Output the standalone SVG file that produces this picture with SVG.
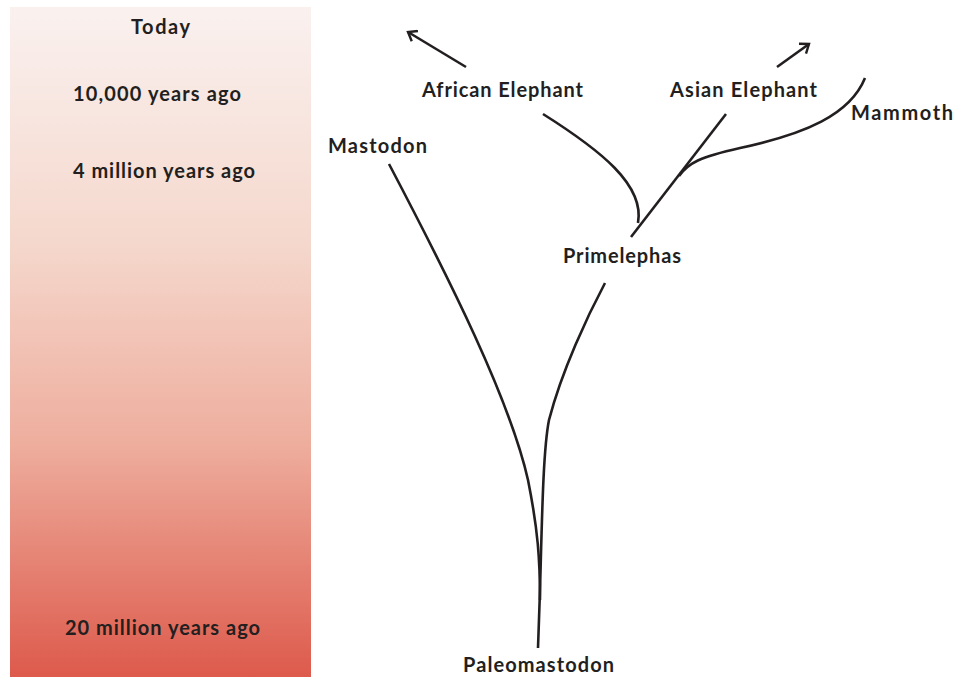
<svg xmlns="http://www.w3.org/2000/svg" width="958" height="677" viewBox="0 0 958 677">
<style>
text{font-family:Lato,"Open Sans","Liberation Sans",sans-serif;font-weight:bold;font-size:20px;fill:#231f20}
.ln{fill:none;stroke:#231f20;stroke-width:2.6;stroke-linecap:butt}
</style>
<defs>
<linearGradient id="g" x1="0" y1="0" x2="0" y2="1">
<stop offset="0" stop-color="#faf1ef"/>
<stop offset="0.35" stop-color="#f5d8cd"/>
<stop offset="0.65" stop-color="#eeae9e"/>
<stop offset="1" stop-color="#dd5a4c"/>
</linearGradient>
<marker id="ah" markerWidth="14" markerHeight="14" refX="11" refY="7" orient="auto" markerUnits="userSpaceOnUse">
<path d="M3,1 L11,7 L3,13" fill="none" stroke="#231f20" stroke-width="2.4"/>
</marker>
</defs>
<g id="timescale">
<rect x="10" y="7" width="301" height="670" fill="url(#g)"/>
<text x="131" y="34" textLength="59" lengthAdjust="spacing">Today</text>
<text x="73" y="101" textLength="168" lengthAdjust="spacing">10,000 years ago</text>
<text x="73" y="178" textLength="182" lengthAdjust="spacing">4 million years ago</text>
<text x="65" y="635" textLength="195" lengthAdjust="spacing">20 million years ago</text>
</g>
<g id="connectors">
<path class="ln" d="M389,164 C450,280 510,400 528,480 C538,530 540,560 540,600"/>
<path class="ln" d="M538,648 L540,590 C542,520 543,450 549,420 C562,370 588,315 605,283"/>
<path class="ln" d="M543,114 C600,150 645,185 638,223"/>
<path class="ln" d="M631,237 L726,114"/>
<path class="ln" d="M679,176 C688,163 700,157 740,148 C805,134 850,115 865,78"/>
<path class="ln" d="M466,67 L408,32" marker-end="url(#ah)"/>
<path class="ln" d="M777,67 L809,44" marker-end="url(#ah)"/>
</g>
<g id="african"><text x="422" y="97" textLength="161" lengthAdjust="spacing">African Elephant</text></g>
<g id="asian"><text x="670" y="97" textLength="147" lengthAdjust="spacing">Asian Elephant</text></g>
<g id="mammoth"><text x="851" y="120" textLength="102" lengthAdjust="spacing">Mammoth</text></g>
<g id="mastodon"><text x="328" y="153" textLength="99" lengthAdjust="spacing">Mastodon</text></g>
<g id="primelephas"><text x="563" y="263" textLength="118" lengthAdjust="spacing">Primelephas</text></g>
<g id="paleomastodon"><text x="463" y="672" textLength="151" lengthAdjust="spacing">Paleomastodon</text></g>
</svg>
